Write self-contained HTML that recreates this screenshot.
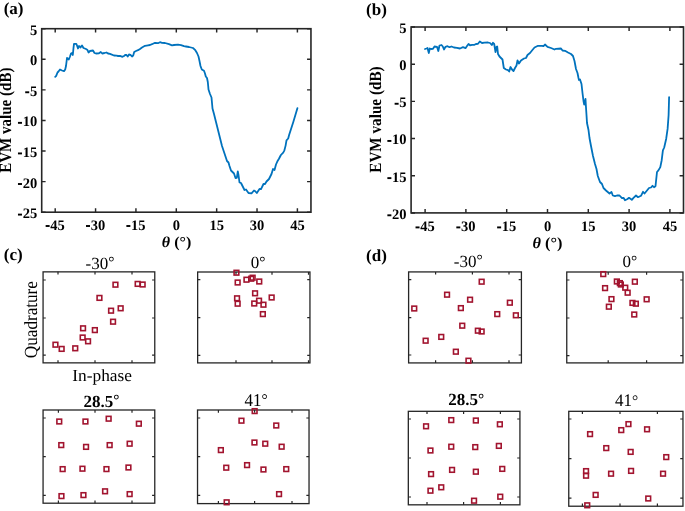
<!DOCTYPE html><html><head><meta charset="utf-8"><style>html,body{margin:0;padding:0;background:#fff;}svg{display:block;will-change:transform;}text{font-family:"Liberation Serif",serif;text-rendering:geometricPrecision;}</style></head><body>
<svg width="685" height="511" viewBox="0 0 685 511">
<rect width="685" height="511" fill="#fff"/>
<polyline points="55.2,76.8 56.2,75.8 57.5,72.5 58.5,71.5 60.0,69.5 62.0,70.5 64.0,71.2 65.2,69.5 66.0,66.0 67.0,58.0 68.0,59.0 68.8,59.5 70.0,56.5 71.0,53.5 72.0,53.0 72.8,55.0 73.5,48.0 74.0,43.8 76.3,43.8 77.0,45.5 78.0,48.5 79.0,46.0 80.0,46.5 80.5,47.5 82.0,45.5 83.5,48.0 86.0,49.0 87.5,50.0 88.5,52.5 90.0,51.0 93.0,50.5 94.5,53.0 96.0,53.5 99.0,53.3 100.8,52.0 102.2,53.5 104.5,53.0 106.5,52.5 108.0,53.5 110.0,53.8 114.0,55.5 116.5,55.7 118.0,56.0 120.0,55.8 122.5,56.8 124.0,56.0 125.5,54.8 126.5,55.0 127.7,56.5 129.0,54.5 130.5,54.8 132.0,56.5 133.2,55.5 134.2,52.0 136.0,51.0 138.0,50.2 140.0,49.0 142.0,47.5 145.0,45.8 148.0,45.3 150.0,45.0 152.0,44.2 155.0,42.8 158.0,43.2 160.0,42.2 162.0,42.8 165.0,43.0 169.0,44.2 172.0,45.3 174.0,45.0 178.0,44.7 181.0,45.2 184.0,46.2 186.0,46.5 189.0,47.0 193.0,48.0 195.0,49.8 197.0,53.0 198.5,56.5 199.5,61.0 200.5,66.0 201.8,69.5 204.0,70.8 205.0,73.5 205.8,76.5 207.0,78.0 207.8,82.0 208.2,86.0 208.5,89.5 210.0,94.0 211.5,97.5 212.0,103.0 212.5,108.5 214.0,114.0 216.0,122.0 218.0,130.0 220.0,138.0 222.0,146.0 224.0,152.0 226.0,158.0 227.0,161.0 228.5,162.5 229.5,166.0 231.0,170.5 232.5,172.0 234.0,173.5 235.5,178.0 236.8,177.8 237.8,171.5 238.5,175.0 239.5,182.5 241.0,183.0 242.5,186.0 244.5,190.0 246.0,189.5 248.5,193.0 251.5,193.3 254.0,190.5 255.0,191.0 256.8,193.0 259.5,189.0 261.0,189.2 263.5,184.0 265.0,184.0 266.5,181.5 269.0,179.0 271.5,174.0 273.0,169.0 274.5,170.0 276.0,164.5 277.6,160.9 279.1,158.5 280.9,155.0 283.2,152.6 284.4,150.3 285.6,145.6 286.5,140.3 288.2,138.5 289.1,135.0 293.3,121.9 297.4,108.2" fill="none" stroke="#0072BD" stroke-width="1.8" stroke-linejoin="round" stroke-linecap="round"/>
<rect x="41.7" y="28.7" width="269.25" height="183.5" fill="none" stroke="#262626" stroke-width="1.6"/>
<path d="M55.20500000000001,212.2v-3.9M55.20500000000001,28.7v3.9" stroke="#262626" stroke-width="1.45"/>
<path d="M95.57000000000002,212.2v-3.9M95.57000000000002,28.7v3.9" stroke="#262626" stroke-width="1.45"/>
<path d="M135.935,212.2v-3.9M135.935,28.7v3.9" stroke="#262626" stroke-width="1.45"/>
<path d="M176.3,212.2v-3.9M176.3,28.7v3.9" stroke="#262626" stroke-width="1.45"/>
<path d="M216.66500000000002,212.2v-3.9M216.66500000000002,28.7v3.9" stroke="#262626" stroke-width="1.45"/>
<path d="M257.03,212.2v-3.9M257.03,28.7v3.9" stroke="#262626" stroke-width="1.45"/>
<path d="M297.395,212.2v-3.9M297.395,28.7v3.9" stroke="#262626" stroke-width="1.45"/>
<path d="M41.7,28.7h3.9M310.95,28.7h-3.9" stroke="#262626" stroke-width="1.45"/>
<path d="M41.7,59.283h3.9M310.95,59.283h-3.9" stroke="#262626" stroke-width="1.45"/>
<path d="M41.7,89.866h3.9M310.95,89.866h-3.9" stroke="#262626" stroke-width="1.45"/>
<path d="M41.7,120.449h3.9M310.95,120.449h-3.9" stroke="#262626" stroke-width="1.45"/>
<path d="M41.7,151.03199999999998h3.9M310.95,151.03199999999998h-3.9" stroke="#262626" stroke-width="1.45"/>
<path d="M41.7,181.61499999999998h3.9M310.95,181.61499999999998h-3.9" stroke="#262626" stroke-width="1.45"/>
<path d="M41.7,212.19799999999998h3.9M310.95,212.19799999999998h-3.9" stroke="#262626" stroke-width="1.45"/>
<rect x="45.64" y="225.05" width="4.0" height="1.9" fill="#000"/>
<text x="50.37" y="229.5" font-size="14.5" font-weight="bold">45</text>
<rect x="86.00" y="225.05" width="4.0" height="1.9" fill="#000"/>
<text x="90.74" y="229.5" font-size="14.5" font-weight="bold">30</text>
<rect x="126.37" y="225.05" width="4.0" height="1.9" fill="#000"/>
<text x="131.10" y="229.5" font-size="14.5" font-weight="bold">15</text>
<text x="176.3" y="229.5" font-size="14.5" font-weight="bold" text-anchor="middle">0</text>
<text x="216.66500000000002" y="229.5" font-size="14.5" font-weight="bold" text-anchor="middle">15</text>
<text x="257.03" y="229.5" font-size="14.5" font-weight="bold" text-anchor="middle">30</text>
<text x="297.395" y="229.5" font-size="14.5" font-weight="bold" text-anchor="middle">45</text>
<text x="37.2" y="34.6" font-size="14.5" font-weight="bold" text-anchor="end">5</text>
<text x="37.2" y="65.183" font-size="14.5" font-weight="bold" text-anchor="end">0</text>
<rect x="25.22" y="91.32" width="4.0" height="1.9" fill="#000"/>
<text x="37.2" y="95.766" font-size="14.5" font-weight="bold" text-anchor="end">5</text>
<rect x="17.97" y="121.90" width="4.0" height="1.9" fill="#000"/>
<text x="37.2" y="126.349" font-size="14.5" font-weight="bold" text-anchor="end">10</text>
<rect x="17.97" y="152.48" width="4.0" height="1.9" fill="#000"/>
<text x="37.2" y="156.932" font-size="14.5" font-weight="bold" text-anchor="end">15</text>
<rect x="17.97" y="183.06" width="4.0" height="1.9" fill="#000"/>
<text x="37.2" y="187.515" font-size="14.5" font-weight="bold" text-anchor="end">20</text>
<rect x="17.97" y="213.65" width="4.0" height="1.9" fill="#000"/>
<text x="37.2" y="218.09799999999998" font-size="14.5" font-weight="bold" text-anchor="end">25</text>
<polyline points="425.0,49.0 426.5,48.5 427.5,48.0 428.8,53.0 429.8,48.5 431.0,49.0 433.0,48.8 434.5,46.5 437.0,46.8 438.3,51.0 439.5,45.5 441.5,45.0 442.8,46.5 444.0,49.5 445.5,46.8 447.5,46.2 449.5,47.2 451.5,46.5 454.0,47.5 457.0,47.8 460.0,48.5 463.0,47.2 465.5,48.2 467.0,46.0 468.5,44.0 470.0,45.3 472.0,44.8 474.5,44.8 476.0,44.0 478.0,43.8 479.8,41.5 482.0,43.0 484.5,42.7 488.0,42.5 490.0,43.0 491.8,45.0 493.0,42.8 494.2,44.0 495.5,52.0 496.5,47.0 497.2,46.5 498.0,54.0 499.5,56.5 502.5,59.5 503.8,68.0 506.0,69.5 508.0,70.2 509.2,71.5 510.5,67.0 512.0,69.5 513.5,71.0 515.0,68.0 516.5,65.5 517.5,60.5 519.0,63.5 521.0,60.5 524.0,58.5 526.0,58.0 527.5,55.0 530.0,53.0 532.0,50.5 534.5,47.5 538.0,45.8 542.0,45.8 543.5,46.2 545.0,44.5 547.5,46.8 551.0,48.0 554.5,49.5 556.0,48.8 561.0,48.5 562.5,50.5 565.0,50.8 568.0,52.5 571.0,54.0 573.0,56.0 574.5,61.0 576.0,69.0 577.5,73.0 578.5,78.0 579.0,80.0 580.0,79.5 581.5,84.0 582.5,93.0 583.5,101.0 584.2,104.5 585.5,99.0 585.8,104.5 586.5,115.0 587.0,123.0 588.5,130.0 589.5,138.0 591.0,146.0 593.0,156.0 595.0,164.0 596.5,169.0 597.8,176.0 600.0,182.0 602.0,184.0 603.5,188.0 606.0,190.5 609.5,193.5 611.5,192.0 612.8,195.5 615.0,196.2 617.0,195.5 619.5,195.5 622.0,198.2 623.5,197.8 625.0,200.2 627.5,199.0 629.0,197.8 631.8,199.8 633.5,197.8 636.0,195.5 638.0,197.2 641.0,195.8 643.0,191.8 644.5,193.5 647.0,190.5 649.0,188.0 651.0,187.5 652.5,185.8 654.0,187.2 655.5,186.2 657.0,172.0 658.4,170.4 660.3,167.1 661.7,160.2 662.9,150.4 664.2,147.5 666.2,138.7 667.6,128.9 668.6,115.2 669.1,97.2" fill="none" stroke="#0072BD" stroke-width="1.8" stroke-linejoin="round" stroke-linecap="round"/>
<rect x="411.1" y="27" width="272.4" height="185.9" fill="none" stroke="#262626" stroke-width="1.6"/>
<path d="M425.1,212.9v-3.9M425.1,27v3.9" stroke="#262626" stroke-width="1.45"/>
<path d="M465.9,212.9v-3.9M465.9,27v3.9" stroke="#262626" stroke-width="1.45"/>
<path d="M506.7,212.9v-3.9M506.7,27v3.9" stroke="#262626" stroke-width="1.45"/>
<path d="M547.5,212.9v-3.9M547.5,27v3.9" stroke="#262626" stroke-width="1.45"/>
<path d="M588.3,212.9v-3.9M588.3,27v3.9" stroke="#262626" stroke-width="1.45"/>
<path d="M629.1,212.9v-3.9M629.1,27v3.9" stroke="#262626" stroke-width="1.45"/>
<path d="M669.9,212.9v-3.9M669.9,27v3.9" stroke="#262626" stroke-width="1.45"/>
<path d="M411.1,27.0h3.9M683.5,27.0h-3.9" stroke="#262626" stroke-width="1.45"/>
<path d="M411.1,64.18h3.9M683.5,64.18h-3.9" stroke="#262626" stroke-width="1.45"/>
<path d="M411.1,101.36h3.9M683.5,101.36h-3.9" stroke="#262626" stroke-width="1.45"/>
<path d="M411.1,138.54h3.9M683.5,138.54h-3.9" stroke="#262626" stroke-width="1.45"/>
<path d="M411.1,175.72h3.9M683.5,175.72h-3.9" stroke="#262626" stroke-width="1.45"/>
<path d="M411.1,212.9h3.9M683.5,212.9h-3.9" stroke="#262626" stroke-width="1.45"/>
<rect x="415.53" y="226.45" width="4.0" height="1.9" fill="#000"/>
<text x="420.27" y="230.9" font-size="14.5" font-weight="bold">45</text>
<rect x="456.33" y="226.45" width="4.0" height="1.9" fill="#000"/>
<text x="461.07" y="230.9" font-size="14.5" font-weight="bold">30</text>
<rect x="497.13" y="226.45" width="4.0" height="1.9" fill="#000"/>
<text x="501.87" y="230.9" font-size="14.5" font-weight="bold">15</text>
<text x="547.5" y="230.9" font-size="14.5" font-weight="bold" text-anchor="middle">0</text>
<text x="588.3" y="230.9" font-size="14.5" font-weight="bold" text-anchor="middle">15</text>
<text x="629.1" y="230.9" font-size="14.5" font-weight="bold" text-anchor="middle">30</text>
<text x="669.9" y="230.9" font-size="14.5" font-weight="bold" text-anchor="middle">45</text>
<text x="406.6" y="32.9" font-size="14.5" font-weight="bold" text-anchor="end">5</text>
<text x="406.6" y="70.08000000000001" font-size="14.5" font-weight="bold" text-anchor="end">0</text>
<rect x="394.62" y="102.81" width="4.0" height="1.9" fill="#000"/>
<text x="406.6" y="107.26" font-size="14.5" font-weight="bold" text-anchor="end">5</text>
<rect x="387.37" y="139.99" width="4.0" height="1.9" fill="#000"/>
<text x="406.6" y="144.44" font-size="14.5" font-weight="bold" text-anchor="end">10</text>
<rect x="387.37" y="177.17" width="4.0" height="1.9" fill="#000"/>
<text x="406.6" y="181.62" font-size="14.5" font-weight="bold" text-anchor="end">15</text>
<rect x="387.37" y="214.35" width="4.0" height="1.9" fill="#000"/>
<text x="406.6" y="218.8" font-size="14.5" font-weight="bold" text-anchor="end">20</text>
<rect x="43.07" y="271.86" width="111.7" height="91.0" fill="none" stroke="#262626" stroke-width="1.3"/>
<path d="M58,362.88v-2.7M58,271.86v2.7" stroke="#262626" stroke-width="1.2"/>
<path d="M95,362.88v-2.7M95,271.86v2.7" stroke="#262626" stroke-width="1.2"/>
<path d="M132,362.88v-2.7M132,271.86v2.7" stroke="#262626" stroke-width="1.2"/>
<path d="M43.07,280h2.7M154.78,280h-2.7" stroke="#262626" stroke-width="1.2"/>
<path d="M43.07,318h2.7M154.78,318h-2.7" stroke="#262626" stroke-width="1.2"/>
<path d="M43.07,355.2h2.7M154.78,355.2h-2.7" stroke="#262626" stroke-width="1.2"/>
<rect x="113.10" y="282.35" width="4.7" height="4.7" fill="none" stroke="#A2142F" stroke-width="1.6"/>
<rect x="135.30" y="281.55" width="4.7" height="4.7" fill="none" stroke="#A2142F" stroke-width="1.6"/>
<rect x="140.30" y="282.15" width="4.7" height="4.7" fill="none" stroke="#A2142F" stroke-width="1.6"/>
<rect x="97.10" y="295.55" width="4.7" height="4.7" fill="none" stroke="#A2142F" stroke-width="1.6"/>
<rect x="118.30" y="305.95" width="4.7" height="4.7" fill="none" stroke="#A2142F" stroke-width="1.6"/>
<rect x="108.70" y="308.35" width="4.7" height="4.7" fill="none" stroke="#A2142F" stroke-width="1.6"/>
<rect x="110.70" y="319.35" width="4.7" height="4.7" fill="none" stroke="#A2142F" stroke-width="1.6"/>
<rect x="80.70" y="325.95" width="4.7" height="4.7" fill="none" stroke="#A2142F" stroke-width="1.6"/>
<rect x="92.50" y="327.75" width="4.7" height="4.7" fill="none" stroke="#A2142F" stroke-width="1.6"/>
<rect x="80.30" y="335.15" width="4.7" height="4.7" fill="none" stroke="#A2142F" stroke-width="1.6"/>
<rect x="85.70" y="338.95" width="4.7" height="4.7" fill="none" stroke="#A2142F" stroke-width="1.6"/>
<rect x="53.10" y="342.35" width="4.7" height="4.7" fill="none" stroke="#A2142F" stroke-width="1.6"/>
<rect x="59.30" y="346.55" width="4.7" height="4.7" fill="none" stroke="#A2142F" stroke-width="1.6"/>
<rect x="72.90" y="345.95" width="4.7" height="4.7" fill="none" stroke="#A2142F" stroke-width="1.6"/>
<rect x="197.65" y="272.0" width="112.3" height="90.9" fill="none" stroke="#262626" stroke-width="1.3"/>
<path d="M236,362.94v-2.7M236,272.0v2.7" stroke="#262626" stroke-width="1.2"/>
<path d="M272,362.94v-2.7M272,272.0v2.7" stroke="#262626" stroke-width="1.2"/>
<path d="M308.5,362.94v-2.7M308.5,272.0v2.7" stroke="#262626" stroke-width="1.2"/>
<path d="M197.65,279.6h2.7M309.93,279.6h-2.7" stroke="#262626" stroke-width="1.2"/>
<path d="M197.65,317.6h2.7M309.93,317.6h-2.7" stroke="#262626" stroke-width="1.2"/>
<path d="M197.65,355.4h2.7M309.93,355.4h-2.7" stroke="#262626" stroke-width="1.2"/>
<rect x="234.10" y="270.35" width="4.7" height="4.7" fill="none" stroke="#A2142F" stroke-width="1.6"/>
<rect x="235.30" y="280.15" width="4.7" height="4.7" fill="none" stroke="#A2142F" stroke-width="1.6"/>
<rect x="244.10" y="277.35" width="4.7" height="4.7" fill="none" stroke="#A2142F" stroke-width="1.6"/>
<rect x="248.90" y="276.35" width="4.7" height="4.7" fill="none" stroke="#A2142F" stroke-width="1.6"/>
<rect x="250.30" y="275.35" width="4.7" height="4.7" fill="none" stroke="#A2142F" stroke-width="1.6"/>
<rect x="256.90" y="279.15" width="4.7" height="4.7" fill="none" stroke="#A2142F" stroke-width="1.6"/>
<rect x="252.70" y="290.95" width="4.7" height="4.7" fill="none" stroke="#A2142F" stroke-width="1.6"/>
<rect x="234.70" y="295.95" width="4.7" height="4.7" fill="none" stroke="#A2142F" stroke-width="1.6"/>
<rect x="235.30" y="301.35" width="4.7" height="4.7" fill="none" stroke="#A2142F" stroke-width="1.6"/>
<rect x="251.90" y="301.15" width="4.7" height="4.7" fill="none" stroke="#A2142F" stroke-width="1.6"/>
<rect x="256.70" y="298.35" width="4.7" height="4.7" fill="none" stroke="#A2142F" stroke-width="1.6"/>
<rect x="261.10" y="302.35" width="4.7" height="4.7" fill="none" stroke="#A2142F" stroke-width="1.6"/>
<rect x="269.30" y="295.15" width="4.7" height="4.7" fill="none" stroke="#A2142F" stroke-width="1.6"/>
<rect x="260.50" y="311.75" width="4.7" height="4.7" fill="none" stroke="#A2142F" stroke-width="1.6"/>
<rect x="43.07" y="410.0" width="111.7" height="93.2" fill="none" stroke="#262626" stroke-width="1.3"/>
<path d="M58.4,503.18v-2.7M58.4,410.0v2.7" stroke="#262626" stroke-width="1.2"/>
<path d="M95,503.18v-2.7M95,410.0v2.7" stroke="#262626" stroke-width="1.2"/>
<path d="M132,503.18v-2.7M132,410.0v2.7" stroke="#262626" stroke-width="1.2"/>
<path d="M43.07,418h2.7M154.78,418h-2.7" stroke="#262626" stroke-width="1.2"/>
<path d="M43.07,456.6h2.7M154.78,456.6h-2.7" stroke="#262626" stroke-width="1.2"/>
<path d="M43.07,495.4h2.7M154.78,495.4h-2.7" stroke="#262626" stroke-width="1.2"/>
<rect x="56.90" y="419.15" width="4.7" height="4.7" fill="none" stroke="#A2142F" stroke-width="1.6"/>
<rect x="83.10" y="419.15" width="4.7" height="4.7" fill="none" stroke="#A2142F" stroke-width="1.6"/>
<rect x="106.30" y="416.35" width="4.7" height="4.7" fill="none" stroke="#A2142F" stroke-width="1.6"/>
<rect x="136.50" y="421.35" width="4.7" height="4.7" fill="none" stroke="#A2142F" stroke-width="1.6"/>
<rect x="58.90" y="442.75" width="4.7" height="4.7" fill="none" stroke="#A2142F" stroke-width="1.6"/>
<rect x="83.70" y="444.55" width="4.7" height="4.7" fill="none" stroke="#A2142F" stroke-width="1.6"/>
<rect x="107.30" y="442.75" width="4.7" height="4.7" fill="none" stroke="#A2142F" stroke-width="1.6"/>
<rect x="127.30" y="441.35" width="4.7" height="4.7" fill="none" stroke="#A2142F" stroke-width="1.6"/>
<rect x="60.30" y="466.75" width="4.7" height="4.7" fill="none" stroke="#A2142F" stroke-width="1.6"/>
<rect x="80.10" y="466.35" width="4.7" height="4.7" fill="none" stroke="#A2142F" stroke-width="1.6"/>
<rect x="104.10" y="466.75" width="4.7" height="4.7" fill="none" stroke="#A2142F" stroke-width="1.6"/>
<rect x="126.10" y="465.15" width="4.7" height="4.7" fill="none" stroke="#A2142F" stroke-width="1.6"/>
<rect x="59.10" y="493.75" width="4.7" height="4.7" fill="none" stroke="#A2142F" stroke-width="1.6"/>
<rect x="81.10" y="492.75" width="4.7" height="4.7" fill="none" stroke="#A2142F" stroke-width="1.6"/>
<rect x="102.70" y="488.95" width="4.7" height="4.7" fill="none" stroke="#A2142F" stroke-width="1.6"/>
<rect x="127.30" y="491.75" width="4.7" height="4.7" fill="none" stroke="#A2142F" stroke-width="1.6"/>
<rect x="197.53" y="410.0" width="111.5" height="93.6" fill="none" stroke="#262626" stroke-width="1.3"/>
<path d="M218.4,503.6v-2.7M218.4,410.0v2.7" stroke="#262626" stroke-width="1.2"/>
<path d="M254.6,503.6v-2.7M254.6,410.0v2.7" stroke="#262626" stroke-width="1.2"/>
<path d="M292,503.6v-2.7M292,410.0v2.7" stroke="#262626" stroke-width="1.2"/>
<path d="M197.53,418h2.7M309.05,418h-2.7" stroke="#262626" stroke-width="1.2"/>
<path d="M197.53,456.6h2.7M309.05,456.6h-2.7" stroke="#262626" stroke-width="1.2"/>
<path d="M197.53,495.4h2.7M309.05,495.4h-2.7" stroke="#262626" stroke-width="1.2"/>
<rect x="252.30" y="408.75" width="4.7" height="4.7" fill="none" stroke="#A2142F" stroke-width="1.6"/>
<rect x="239.10" y="418.35" width="4.7" height="4.7" fill="none" stroke="#A2142F" stroke-width="1.6"/>
<rect x="273.90" y="423.15" width="4.7" height="4.7" fill="none" stroke="#A2142F" stroke-width="1.6"/>
<rect x="252.10" y="440.15" width="4.7" height="4.7" fill="none" stroke="#A2142F" stroke-width="1.6"/>
<rect x="262.90" y="441.35" width="4.7" height="4.7" fill="none" stroke="#A2142F" stroke-width="1.6"/>
<rect x="279.30" y="444.35" width="4.7" height="4.7" fill="none" stroke="#A2142F" stroke-width="1.6"/>
<rect x="218.50" y="447.75" width="4.7" height="4.7" fill="none" stroke="#A2142F" stroke-width="1.6"/>
<rect x="223.90" y="465.35" width="4.7" height="4.7" fill="none" stroke="#A2142F" stroke-width="1.6"/>
<rect x="244.70" y="462.75" width="4.7" height="4.7" fill="none" stroke="#A2142F" stroke-width="1.6"/>
<rect x="261.10" y="467.15" width="4.7" height="4.7" fill="none" stroke="#A2142F" stroke-width="1.6"/>
<rect x="283.90" y="466.75" width="4.7" height="4.7" fill="none" stroke="#A2142F" stroke-width="1.6"/>
<rect x="276.70" y="491.75" width="4.7" height="4.7" fill="none" stroke="#A2142F" stroke-width="1.6"/>
<rect x="224.30" y="499.95" width="4.7" height="4.7" fill="none" stroke="#A2142F" stroke-width="1.6"/>
<rect x="408.61" y="271.92" width="112.8" height="91.0" fill="none" stroke="#262626" stroke-width="1.3"/>
<path d="M435.6,362.94v-2.7M435.6,271.92v2.7" stroke="#262626" stroke-width="1.2"/>
<path d="M472.4,362.94v-2.7M472.4,271.92v2.7" stroke="#262626" stroke-width="1.2"/>
<path d="M509,362.94v-2.7M509,271.92v2.7" stroke="#262626" stroke-width="1.2"/>
<path d="M408.61,279.6h2.7M521.39,279.6h-2.7" stroke="#262626" stroke-width="1.2"/>
<path d="M408.61,317.6h2.7M521.39,317.6h-2.7" stroke="#262626" stroke-width="1.2"/>
<path d="M408.61,355h2.7M521.39,355h-2.7" stroke="#262626" stroke-width="1.2"/>
<rect x="479.30" y="279.35" width="4.7" height="4.7" fill="none" stroke="#A2142F" stroke-width="1.6"/>
<rect x="444.70" y="292.35" width="4.7" height="4.7" fill="none" stroke="#A2142F" stroke-width="1.6"/>
<rect x="467.70" y="297.35" width="4.7" height="4.7" fill="none" stroke="#A2142F" stroke-width="1.6"/>
<rect x="507.50" y="300.35" width="4.7" height="4.7" fill="none" stroke="#A2142F" stroke-width="1.6"/>
<rect x="411.90" y="306.15" width="4.7" height="4.7" fill="none" stroke="#A2142F" stroke-width="1.6"/>
<rect x="458.50" y="305.75" width="4.7" height="4.7" fill="none" stroke="#A2142F" stroke-width="1.6"/>
<rect x="494.90" y="311.75" width="4.7" height="4.7" fill="none" stroke="#A2142F" stroke-width="1.6"/>
<rect x="513.50" y="312.95" width="4.7" height="4.7" fill="none" stroke="#A2142F" stroke-width="1.6"/>
<rect x="459.90" y="323.35" width="4.7" height="4.7" fill="none" stroke="#A2142F" stroke-width="1.6"/>
<rect x="475.50" y="328.35" width="4.7" height="4.7" fill="none" stroke="#A2142F" stroke-width="1.6"/>
<rect x="479.30" y="329.15" width="4.7" height="4.7" fill="none" stroke="#A2142F" stroke-width="1.6"/>
<rect x="438.90" y="334.55" width="4.7" height="4.7" fill="none" stroke="#A2142F" stroke-width="1.6"/>
<rect x="423.30" y="338.35" width="4.7" height="4.7" fill="none" stroke="#A2142F" stroke-width="1.6"/>
<rect x="453.50" y="349.35" width="4.7" height="4.7" fill="none" stroke="#A2142F" stroke-width="1.6"/>
<rect x="466.10" y="358.35" width="4.7" height="4.7" fill="none" stroke="#A2142F" stroke-width="1.6"/>
<rect x="566.76" y="272.0" width="116.2" height="90.9" fill="none" stroke="#262626" stroke-width="1.3"/>
<path d="M608.2,362.88v-2.7M608.2,272.0v2.7" stroke="#262626" stroke-width="1.2"/>
<path d="M646.6,362.88v-2.7M646.6,272.0v2.7" stroke="#262626" stroke-width="1.2"/>
<path d="M566.76,280h2.7M682.96,280h-2.7" stroke="#262626" stroke-width="1.2"/>
<path d="M566.76,318h2.7M682.96,318h-2.7" stroke="#262626" stroke-width="1.2"/>
<path d="M566.76,355.6h2.7M682.96,355.6h-2.7" stroke="#262626" stroke-width="1.2"/>
<rect x="600.90" y="271.75" width="4.7" height="4.7" fill="none" stroke="#A2142F" stroke-width="1.6"/>
<rect x="614.50" y="279.15" width="4.7" height="4.7" fill="none" stroke="#A2142F" stroke-width="1.6"/>
<rect x="617.50" y="280.75" width="4.7" height="4.7" fill="none" stroke="#A2142F" stroke-width="1.6"/>
<rect x="618.50" y="282.15" width="4.7" height="4.7" fill="none" stroke="#A2142F" stroke-width="1.6"/>
<rect x="632.50" y="279.35" width="4.7" height="4.7" fill="none" stroke="#A2142F" stroke-width="1.6"/>
<rect x="602.70" y="285.75" width="4.7" height="4.7" fill="none" stroke="#A2142F" stroke-width="1.6"/>
<rect x="622.90" y="285.35" width="4.7" height="4.7" fill="none" stroke="#A2142F" stroke-width="1.6"/>
<rect x="625.30" y="290.35" width="4.7" height="4.7" fill="none" stroke="#A2142F" stroke-width="1.6"/>
<rect x="609.10" y="296.75" width="4.7" height="4.7" fill="none" stroke="#A2142F" stroke-width="1.6"/>
<rect x="644.30" y="296.95" width="4.7" height="4.7" fill="none" stroke="#A2142F" stroke-width="1.6"/>
<rect x="606.50" y="304.35" width="4.7" height="4.7" fill="none" stroke="#A2142F" stroke-width="1.6"/>
<rect x="630.10" y="300.55" width="4.7" height="4.7" fill="none" stroke="#A2142F" stroke-width="1.6"/>
<rect x="633.50" y="301.35" width="4.7" height="4.7" fill="none" stroke="#A2142F" stroke-width="1.6"/>
<rect x="631.90" y="312.15" width="4.7" height="4.7" fill="none" stroke="#A2142F" stroke-width="1.6"/>
<rect x="408.32" y="411.32" width="111.6" height="93.5" fill="none" stroke="#262626" stroke-width="1.3"/>
<path d="M427,504.78v-2.7M427,411.32v2.7" stroke="#262626" stroke-width="1.2"/>
<path d="M463.6,504.78v-2.7M463.6,411.32v2.7" stroke="#262626" stroke-width="1.2"/>
<path d="M500.4,504.78v-2.7M500.4,411.32v2.7" stroke="#262626" stroke-width="1.2"/>
<path d="M408.32,419h2.7M519.93,419h-2.7" stroke="#262626" stroke-width="1.2"/>
<path d="M408.32,458h2.7M519.93,458h-2.7" stroke="#262626" stroke-width="1.2"/>
<path d="M408.32,497h2.7M519.93,497h-2.7" stroke="#262626" stroke-width="1.2"/>
<rect x="423.70" y="423.95" width="4.7" height="4.7" fill="none" stroke="#A2142F" stroke-width="1.6"/>
<rect x="448.90" y="417.75" width="4.7" height="4.7" fill="none" stroke="#A2142F" stroke-width="1.6"/>
<rect x="473.50" y="418.15" width="4.7" height="4.7" fill="none" stroke="#A2142F" stroke-width="1.6"/>
<rect x="497.50" y="421.95" width="4.7" height="4.7" fill="none" stroke="#A2142F" stroke-width="1.6"/>
<rect x="428.10" y="448.15" width="4.7" height="4.7" fill="none" stroke="#A2142F" stroke-width="1.6"/>
<rect x="448.90" y="444.35" width="4.7" height="4.7" fill="none" stroke="#A2142F" stroke-width="1.6"/>
<rect x="472.90" y="444.75" width="4.7" height="4.7" fill="none" stroke="#A2142F" stroke-width="1.6"/>
<rect x="496.50" y="443.55" width="4.7" height="4.7" fill="none" stroke="#A2142F" stroke-width="1.6"/>
<rect x="428.70" y="471.75" width="4.7" height="4.7" fill="none" stroke="#A2142F" stroke-width="1.6"/>
<rect x="449.70" y="467.55" width="4.7" height="4.7" fill="none" stroke="#A2142F" stroke-width="1.6"/>
<rect x="473.50" y="469.35" width="4.7" height="4.7" fill="none" stroke="#A2142F" stroke-width="1.6"/>
<rect x="499.90" y="466.55" width="4.7" height="4.7" fill="none" stroke="#A2142F" stroke-width="1.6"/>
<rect x="428.10" y="488.35" width="4.7" height="4.7" fill="none" stroke="#A2142F" stroke-width="1.6"/>
<rect x="438.90" y="484.95" width="4.7" height="4.7" fill="none" stroke="#A2142F" stroke-width="1.6"/>
<rect x="471.70" y="498.35" width="4.7" height="4.7" fill="none" stroke="#A2142F" stroke-width="1.6"/>
<rect x="497.90" y="494.35" width="4.7" height="4.7" fill="none" stroke="#A2142F" stroke-width="1.6"/>
<rect x="568.76" y="411.32" width="114.2" height="94.9" fill="none" stroke="#262626" stroke-width="1.3"/>
<path d="M582.4,506.24v-2.7M582.4,411.32v2.7" stroke="#262626" stroke-width="1.2"/>
<path d="M620,506.24v-2.7M620,411.32v2.7" stroke="#262626" stroke-width="1.2"/>
<path d="M657.4,506.24v-2.7M657.4,411.32v2.7" stroke="#262626" stroke-width="1.2"/>
<path d="M568.76,419h2.7M682.96,419h-2.7" stroke="#262626" stroke-width="1.2"/>
<path d="M568.76,458.6h2.7M682.96,458.6h-2.7" stroke="#262626" stroke-width="1.2"/>
<path d="M568.76,498.2h2.7M682.96,498.2h-2.7" stroke="#262626" stroke-width="1.2"/>
<rect x="626.10" y="421.75" width="4.7" height="4.7" fill="none" stroke="#A2142F" stroke-width="1.6"/>
<rect x="618.90" y="427.75" width="4.7" height="4.7" fill="none" stroke="#A2142F" stroke-width="1.6"/>
<rect x="644.70" y="426.95" width="4.7" height="4.7" fill="none" stroke="#A2142F" stroke-width="1.6"/>
<rect x="587.70" y="431.75" width="4.7" height="4.7" fill="none" stroke="#A2142F" stroke-width="1.6"/>
<rect x="603.90" y="445.75" width="4.7" height="4.7" fill="none" stroke="#A2142F" stroke-width="1.6"/>
<rect x="628.30" y="449.55" width="4.7" height="4.7" fill="none" stroke="#A2142F" stroke-width="1.6"/>
<rect x="663.90" y="454.75" width="4.7" height="4.7" fill="none" stroke="#A2142F" stroke-width="1.6"/>
<rect x="583.70" y="468.75" width="4.7" height="4.7" fill="none" stroke="#A2142F" stroke-width="1.6"/>
<rect x="583.70" y="473.35" width="4.7" height="4.7" fill="none" stroke="#A2142F" stroke-width="1.6"/>
<rect x="608.70" y="471.35" width="4.7" height="4.7" fill="none" stroke="#A2142F" stroke-width="1.6"/>
<rect x="628.70" y="468.55" width="4.7" height="4.7" fill="none" stroke="#A2142F" stroke-width="1.6"/>
<rect x="660.70" y="471.35" width="4.7" height="4.7" fill="none" stroke="#A2142F" stroke-width="1.6"/>
<rect x="593.30" y="492.55" width="4.7" height="4.7" fill="none" stroke="#A2142F" stroke-width="1.6"/>
<rect x="645.90" y="496.15" width="4.7" height="4.7" fill="none" stroke="#A2142F" stroke-width="1.6"/>
<rect x="584.90" y="502.95" width="4.7" height="4.7" fill="none" stroke="#A2142F" stroke-width="1.6"/>
<text transform="matrix(1,0,0,1,3.65,13.90)" font-size="17" font-weight="bold">(a)</text>
<text transform="matrix(1,0,0,1,366.05,14.80)" font-size="17" font-weight="bold">(b)</text>
<text transform="matrix(1,0,0,1,3.85,260.40)" font-size="17" font-weight="bold">(c)</text>
<text transform="matrix(1,0,0,1,366.05,260.90)" font-size="17" font-weight="bold">(d)</text>
<text transform="matrix(1,0,0,0.95,161.85,247.35)" font-size="16" font-weight="bold"><tspan font-style="italic">θ</tspan> (°)</text>
<text transform="matrix(1.02,0,0,0.97,532.45,248.40)" font-size="16" font-weight="bold"><tspan font-style="italic">θ</tspan> (°)</text>
<text transform="matrix(1.1,0,0,0.97,11.20,172.80) rotate(-90)" font-size="15.5" font-weight="bold">EVM value (dB)</text>
<text transform="matrix(1.1,0,0,0.98,381.25,172.75) rotate(-90)" font-size="15.5" font-weight="bold">EVM value (dB)</text>
<text transform="matrix(1,0,0,1,85.50,268.70)" font-size="17" font-weight="normal">-30<tspan font-size="15.5" dy="-1.41">°</tspan></text>
<text transform="matrix(1,0,0,1,250.75,268.10)" font-size="17" font-weight="normal">0<tspan font-size="15.5" dy="-0.82">°</tspan></text>
<text transform="matrix(1,0,0,1,83.45,406.90)" font-size="17" font-weight="bold">28.5<tspan font-size="15.5" dy="-1.43">°</tspan></text>
<text transform="matrix(1,0,0,1.06,244.45,405.65)" font-size="17" font-weight="normal">41<tspan font-size="15.5" dy="-0.64">°</tspan></text>
<text transform="matrix(1,0,0,1,453.75,266.85)" font-size="17" font-weight="normal">-30<tspan font-size="15.5" dy="-1.41">°</tspan></text>
<text transform="matrix(1,0,0,1,622.40,267.30)" font-size="17" font-weight="normal">0<tspan font-size="15.5" dy="-0.82">°</tspan></text>
<text transform="matrix(1,0,0,1,448.30,404.95)" font-size="17" font-weight="bold">28.5<tspan font-size="15.5" dy="-1.43">°</tspan></text>
<text transform="matrix(1,0,0,1.04,614.95,406.12)" font-size="17" font-weight="normal">41<tspan font-size="15.5" dy="-0.31">°</tspan></text>
<text transform="matrix(1.09,0,0,1.008,36.75,358.15) rotate(-90)" font-size="17" font-weight="normal">Quadrature</text>
<text transform="matrix(1.02,0,0,1,72.30,381.35)" font-size="17" font-weight="normal">In-phase</text>
</svg></body></html>
